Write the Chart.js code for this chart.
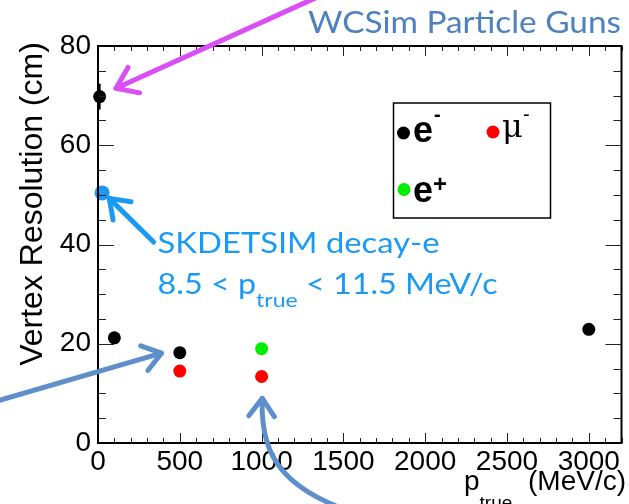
<!DOCTYPE html>
<html>
<head>
<meta charset="utf-8">
<script src="https://cdn.jsdelivr.net/npm/chart.js@4.4.1/dist/chart.umd.min.js"></script>
<style>
html,body{margin:0;padding:0;background:#fff;}
canvas{display:block;}
</style>
</head>
<body>
<canvas id="c" width="629" height="504"></canvas>
<script>
// ---- data ----
const xTickValues = [0, 500, 1000, 1500, 2000, 2500, 3000];
const yTickValues = [0, 20, 40, 60, 80];
const eMinusX = [10, 100, 500, 3000];
const eMinusY = [69.8, 21.2, 18.2, 22.9];
const eMinusErr = [2.6, 1.2, 0.3, 0.3];
const muMinusX = [500, 1000];
const muMinusY = [14.5, 13.4];
const ePlusX = [1000];
const ePlusY = [19.0];
const decayX = [25];
const decayY = [50.4];

const xTitle = ['p', 'true', ' (MeV/c)'];
const yTitle = 'Vertex Resolution (cm)';
const topLabel = 'WCSim Particle Guns';
const decayLabel1 = 'SKDETSIM decay-e';
const decayLabel2 = ['8.5 < p', 'true', ' < 11.5 MeV/c'];

const pts = (xs, ys) => xs.map((x, i) => ({x: x, y: ys[i]}));

function arrowHead(ctx, tx, ty, fromX, fromY, len, ang) {
  const a = Math.atan2(ty - fromY, tx - fromX);
  ctx.beginPath();
  ctx.moveTo(tx - len * Math.cos(a - ang), ty - len * Math.sin(a - ang));
  ctx.lineTo(tx, ty);
  ctx.lineTo(tx - len * Math.cos(a + ang), ty - len * Math.sin(a + ang));
  ctx.stroke();
}

// draw a sequence of [text, font, dy] parts starting at x,y, stretched horizontally to a given width
function drawParts(ctx, parts, x, y, width) {
  let total = 0;
  parts.forEach(p => { ctx.font = p[1]; total += ctx.measureText(p[0]).width; });
  const sx = width / total;
  ctx.save();
  ctx.translate(x, y);
  ctx.scale(sx, 1);
  let cx = 0;
  parts.forEach(p => {
    ctx.font = p[1];
    ctx.fillText(p[0], cx, p[2]);
    cx += ctx.measureText(p[0]).width;
  });
  ctx.restore();
}

const rootFrame = {
  id: 'rootFrame',
  afterDatasetsDraw(chart) {
    const ctx = chart.ctx;
    const xs = chart.scales.x, ys = chart.scales.y;
    const L = chart.chartArea.left, R = chart.chartArea.right, T = chart.chartArea.top, B = chart.chartArea.bottom;
    ctx.save();
    // error bars
    ctx.strokeStyle = '#000';
    ctx.lineWidth = 2;
    eMinusX.forEach((x, i) => {
      const px = xs.getPixelForValue(x);
      ctx.beginPath();
      ctx.moveTo(px, ys.getPixelForValue(eMinusY[i] - eMinusErr[i]));
      ctx.lineTo(px, ys.getPixelForValue(eMinusY[i] + eMinusErr[i]));
      ctx.stroke();
    });
    // ticks
    ctx.lineWidth = 1;
    ctx.strokeStyle = '#222';
    for (let v = 0; v <= 3200; v += 100) {
      const px = Math.round(xs.getPixelForValue(v)) + 0.5;
      const len = (v % 500 === 0) ? 10 : 5;
      ctx.beginPath();
      ctx.moveTo(px, B); ctx.lineTo(px, B - len);
      ctx.moveTo(px, T); ctx.lineTo(px, T + len);
      ctx.stroke();
    }
    for (let v = 0; v <= 80; v += 5) {
      const py = Math.round(ys.getPixelForValue(v)) + 0.5;
      const len = (v % 20 === 0) ? 16 : 8;
      ctx.beginPath();
      ctx.moveTo(L, py); ctx.lineTo(L + len, py);
      ctx.moveTo(R, py); ctx.lineTo(R - len, py);
      ctx.stroke();
    }
    // frame
    ctx.lineWidth = 2;
    ctx.strokeStyle = '#000';
    ctx.strokeRect(L, T, R - L, B - T);

    // axis titles
    ctx.fillStyle = '#000';
    ctx.font = '32px "Liberation Sans", Arial, sans-serif';
    ctx.save();
    ctx.translate(42, 204);
    ctx.rotate(-Math.PI / 2);
    ctx.textAlign = 'center';
    ctx.textBaseline = 'alphabetic';
    ctx.fillText(yTitle, 0, 0);
    ctx.restore();

    ctx.textBaseline = 'alphabetic';
    ctx.textAlign = 'right';
    ctx.font = '28px "Liberation Sans", Arial, sans-serif';
    ctx.fillText(xTitle[2], 626, 490);
    ctx.textAlign = 'left';
    ctx.fillText(xTitle[0], 464, 490);
    const pw = ctx.measureText(xTitle[0]).width;
    ctx.font = '19px "Liberation Sans", Arial, sans-serif';
    ctx.fillText(xTitle[1], 464 + pw, 509);

    // legend box
    ctx.fillStyle = '#fff';
    ctx.fillRect(393, 103, 157, 115);
    ctx.lineWidth = 1.5;
    ctx.strokeStyle = '#000';
    ctx.strokeRect(393.5, 103, 157, 115);
    const dot = (x, y, c) => { ctx.fillStyle = c; ctx.beginPath(); ctx.arc(x, y, 6.5, 0, Math.PI * 2); ctx.fill(); };
    dot(403.5, 133, '#000');
    dot(493, 132, '#ff0000');
    dot(404, 189.5, '#00ee00');
    ctx.fillStyle = '#000';
    ctx.textAlign = 'left';
    ctx.font = 'bold 36px "Liberation Sans", Arial, sans-serif';
    ctx.fillText('e', 413, 142);
    ctx.fillText('e', 413, 202);
    ctx.font = 'bold 20px "Liberation Sans", Arial, sans-serif';
    ctx.fillText('-', 434, 121);
    ctx.font = 'bold 24px "Liberation Sans", Arial, sans-serif';
    ctx.fillText('+', 433, 192);
    ctx.font = '32px "DejaVu Serif", serif';
    ctx.fillText('\u03bc', 502, 137);
    ctx.font = '20px "Liberation Sans", Arial, sans-serif';
    ctx.fillText('-', 523, 121);

    // annotations
    ctx.lineCap = 'round';
    ctx.lineJoin = 'round';
    const P = (x, y) => [xs.getPixelForValue(x), ys.getPixelForValue(y)];
    // magenta arrow
    let a = P(110, 71.5), b = P(1330, 89.7);
    ctx.strokeStyle = '#d94ff5';
    ctx.lineWidth = 5;
    ctx.beginPath(); ctx.moveTo(b[0], b[1]); ctx.lineTo(a[0], a[1]); ctx.stroke();
    arrowHead(ctx, a[0], a[1], b[0], b[1], 24, 0.62);
    // sky blue arrow
    a = P(69, 49.3); b = P(340, 40.5);
    ctx.strokeStyle = '#1a9af5';
    ctx.beginPath(); ctx.moveTo(b[0], b[1]); ctx.lineTo(a[0], a[1]); ctx.stroke();
    arrowHead(ctx, a[0], a[1], b[0], b[1], 22, 0.62);
    // steel blue arrow 1
    ctx.strokeStyle = '#5f8fca';
    a = P(388, 18.1); b = P(-602, 8.6);
    ctx.beginPath(); ctx.moveTo(b[0], b[1]); ctx.lineTo(a[0], a[1]); ctx.stroke();
    arrowHead(ctx, a[0], a[1], b[0], b[1], 22, 0.62);
    // steel blue arrow 2 (curved)
    const t0 = P(1462, -12.8), c1 = P(1100, -7.9), c2 = P(992, -1.5), tip = P(1004, 9.0);
    ctx.beginPath(); ctx.moveTo(t0[0], t0[1]);
    ctx.bezierCurveTo(c1[0], c1[1], c2[0], c2[1], tip[0], tip[1]);
    ctx.stroke();
    arrowHead(ctx, tip[0], tip[1], c2[0], c2[1], 22, 0.62);

    // texts
    ctx.textAlign = 'left';
    ctx.fillStyle = '#4f81bd';
    drawParts(ctx, [[topLabel, '30px Lato, "Open Sans", sans-serif', 0]], 308, 33, 313);

    ctx.fillStyle = '#1a9af5';
    const bigF = '28px Lato, "Open Sans", sans-serif';
    const subF = '20px Lato, "Open Sans", sans-serif';
    let q = P(364, 38.3);
    drawParts(ctx, [[decayLabel1, bigF, 0]], q[0], q[1], 282);
    q = P(364, 30.1);
    drawParts(ctx, [[decayLabel2[0], bigF, 0], [decayLabel2[1], subF, 13], [decayLabel2[2], bigF, 0]], q[0], q[1], 340);
    ctx.restore();
  }
};

const tickFont = {family: '"Liberation Sans", Arial, sans-serif', size: 28};

new Chart(document.getElementById('c'), {
  type: 'scatter',
  data: {
    datasets: [
      {label: 'e-', data: pts(eMinusX, eMinusY), backgroundColor: '#000', borderWidth: 0, pointRadius: 6.5, clip: false},
      {label: 'mu-', data: pts(muMinusX, muMinusY), backgroundColor: '#ff0000', borderWidth: 0, pointRadius: 6.5, clip: false},
      {label: 'e+', data: pts(ePlusX, ePlusY), backgroundColor: '#00ee00', borderWidth: 0, pointRadius: 6.5, clip: false},
      {label: 'decay-e', data: pts(decayX, decayY), backgroundColor: '#1a9af5', borderWidth: 0, pointRadius: 7.5, clip: false}
    ]
  },
  options: {
    responsive: false,
    animation: false,
    events: [],
    layout: {padding: {top: 46, right: 1, left: 0, bottom: 0}},
    plugins: {legend: {display: false}, tooltip: {enabled: false}},
    scales: {
      x: {
        type: 'linear', min: 0, max: 3200,
        afterBuildTicks: s => { s.ticks = xTickValues.map(v => ({value: v})); },
        afterFit: s => { s.height = 61; },
        grid: {display: false, drawTicks: false},
        border: {display: false},
        ticks: {font: tickFont, color: '#000', padding: 2, maxRotation: 0, autoSkip: false, callback: v => String(v)}
      },
      y: {
        type: 'linear', min: 0, max: 80,
        afterBuildTicks: s => { s.ticks = yTickValues.map(v => ({value: v})); },
        afterFit: s => { s.width = 98; },
        grid: {display: false, drawTicks: false},
        border: {display: false},
        ticks: {font: tickFont, color: '#000', padding: 7, autoSkip: false, callback: v => String(v)}
      }
    }
  },
  plugins: [rootFrame]
});
</script>
</body>
</html>
